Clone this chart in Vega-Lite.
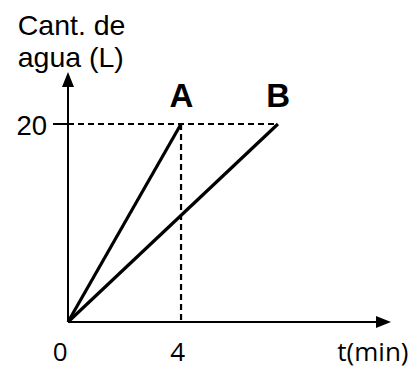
{
  "$schema": "https://vega.github.io/schema/vega-lite/v6.json",
  "width": 323,
  "height": 250,
  "autosize": "none",
  "padding": {"left": 68, "top": 72, "right": 26, "bottom": 48},
  "background": "white",
  "config": {"view": {"stroke": null}},
  "encoding": {
    "x": {"field": "x", "type": "quantitative", "scale": {"domain": [0, 11.43], "nice": false, "zero": false}, "axis": null},
    "y": {"field": "y", "type": "quantitative", "scale": {"domain": [0, 25.25], "nice": false, "zero": false}, "axis": null}
  },
  "layer": [
    {
      "data": {"values": [
        {"x": 0, "y": 0, "x2": 10.95, "y2": 0},
        {"x": 0, "y": 0, "x2": 0, "y2": 24.1},
        {"x": -0.53, "y": 20, "x2": 0, "y2": 20}
      ]},
      "mark": {"type": "rule", "color": "black", "strokeWidth": 2},
      "encoding": {"x2": {"field": "x2"}, "y2": {"field": "y2"}}
    },
    {
      "data": {"values": [
        {"x": 0, "y": 20, "x2": 7.43, "y2": 20},
        {"x": 4, "y": 20, "x2": 4, "y2": 0}
      ]},
      "mark": {"type": "rule", "color": "black", "strokeWidth": 2.2, "strokeDash": [6, 4]},
      "encoding": {"x2": {"field": "x2"}, "y2": {"field": "y2"}}
    },
    {
      "data": {"values": [
        {"series": "A", "x": 0, "y": 0},
        {"series": "A", "x": 4, "y": 20},
        {"series": "B", "x": 0, "y": 0},
        {"series": "B", "x": 7.43, "y": 20}
      ]},
      "mark": {"type": "line", "color": "black", "strokeWidth": 3.2},
      "encoding": {"detail": {"field": "series"}}
    },
    {
      "data": {"values": [{"x": 11.43, "y": 0}]},
      "mark": {"type": "point", "shape": "M0,0 L-2,-0.8 L-2,0.8 Z", "size": 225, "filled": true, "color": "black", "opacity": 1, "strokeWidth": 0}
    },
    {
      "data": {"values": [{"x": 0, "y": 25.25}]},
      "mark": {"type": "point", "shape": "M0,0 L-0.8,2 L0.8,2 Z", "size": 225, "filled": true, "color": "black", "opacity": 1, "strokeWidth": 0}
    },
    {
      "data": {"values": [
        {"label": "A", "x": 4.01, "y": 21.72},
        {"label": "B", "x": 7.44, "y": 21.72}
      ]},
      "mark": {"type": "text", "font": "Liberation Sans", "fontSize": 33, "fontWeight": "bold", "align": "center", "baseline": "alphabetic", "color": "black"},
      "encoding": {"text": {"field": "label"}}
    },
    {
      "data": {"values": [
        {"label": "Cant. de", "x": -1.78, "y": 28.99},
        {"label": "agua (L)", "x": -1.78, "y": 25.79}
      ]},
      "mark": {"type": "text", "font": "Liberation Sans", "fontSize": 28.5, "align": "left", "baseline": "alphabetic", "color": "black"},
      "encoding": {"text": {"field": "label"}}
    },
    {
      "data": {"values": [
        {"label": "20", "x": -0.74, "y": 18.89}
      ]},
      "mark": {"type": "text", "font": "Liberation Sans", "fontSize": 27.5, "align": "right", "baseline": "alphabetic", "color": "black"},
      "encoding": {"text": {"field": "label"}}
    },
    {
      "data": {"values": [
        {"label": "0", "x": -0.28, "y": -3.89},
        {"label": "4", "x": 3.88, "y": -3.89}
      ]},
      "mark": {"type": "text", "font": "Open Sans", "fontSize": 26, "align": "center", "baseline": "alphabetic", "color": "black"},
      "encoding": {"text": {"field": "label"}}
    },
    {
      "data": {"values": [
        {"label": "t(min)", "x": 9.53, "y": -3.95}
      ]},
      "mark": {"type": "text", "font": "Open Sans", "fontSize": 26, "align": "left", "baseline": "alphabetic", "color": "black"},
      "encoding": {"text": {"field": "label"}}
    }
  ]
}
